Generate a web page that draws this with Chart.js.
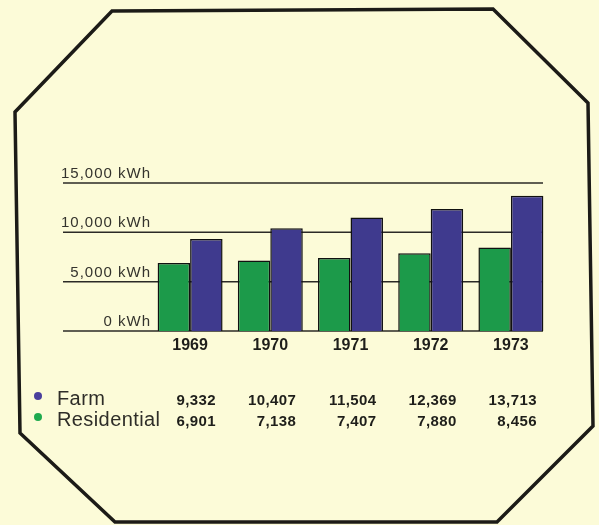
<!DOCTYPE html>
<html>
<head>
<meta charset="utf-8">
<script src="https://cdn.jsdelivr.net/npm/chart.js@4/dist/chart.umd.min.js"></script>
<style>
  html, body { margin:0; padding:0; background:#fcfbd8; }
  #c { display:block; }
</style>
</head>
<body>
<canvas id="c" width="599" height="525"></canvas>
<script>
// ---- DATA ----
const years = ['1969','1970','1971','1972','1973'];
const farm = [9332, 10407, 11504, 12369, 13713];
const residential = [6901, 7138, 7407, 7880, 8456];
const yTicks = [0, 5000, 10000, 15000];
const yTickLabels = ['0 kWh', '5,000 kWh', '10,000 kWh', '15,000 kWh'];
const seriesNames = ['Farm', 'Residential'];

// ---- STYLE ----
const BG = '#fcfbd8';
const GREEN = '#1c9a4a';
const PURPLE = '#3f3a8e';
const FONT = '"Liberation Sans", Arial, Helvetica, sans-serif';

// octagon frame (decoration only)
const frame = [[112,11],[493,9],[588,103],[593,426],[497,522],[115,522],[20,433],[15,112]];

const decor = {
  id:'decor',
  beforeDraw(chart){
    const ctx = chart.ctx;
    ctx.save();
    ctx.fillStyle = BG;
    ctx.fillRect(0,0,chart.width,chart.height);
    ctx.beginPath();
    frame.forEach((p,i)=> i ? ctx.lineTo(p[0],p[1]) : ctx.moveTo(p[0],p[1]));
    ctx.closePath();
    ctx.lineWidth = 3.5;
    ctx.lineJoin = 'miter';
    ctx.strokeStyle = '#1c1b17';
    ctx.stroke();
    ctx.restore();
  },
  // gridlines + y labels sit above each line, under the bars
  beforeDatasetsDraw(chart){
    const ctx = chart.ctx, y = chart.scales.y;
    ctx.save();
    ctx.strokeStyle = '#2b2a26';
    ctx.lineWidth = 1.5;
    ctx.fillStyle = '#34332d';
    ctx.font = '15px ' + FONT;
    ctx.letterSpacing = '1px';
    ctx.textAlign = 'right';
    yTicks.forEach((v,i)=>{
      const py = y.getPixelForValue(v);
      ctx.beginPath();
      ctx.moveTo(63, py);
      ctx.lineTo(543, py);
      ctx.stroke();
      ctx.fillText(yTickLabels[i], 151, py - 5);
    });
    ctx.restore();
  },
  // legend + value table
  afterDraw(chart){
    const ctx = chart.ctx, x = chart.scales.x;
    const rows = [
      {name:seriesNames[0], vals:farm, color:'#4a3f9c', base:405},
      {name:seriesNames[1], vals:residential, color:'#1eaa4e', base:426}
    ];
    ctx.save();
    rows.forEach(r=>{
      ctx.fillStyle = r.color;
      ctx.beginPath();
      ctx.arc(38, r.base - 9, 4, 0, Math.PI*2);
      ctx.fill();
      ctx.fillStyle = '#2e2d28';
      ctx.font = '20px ' + FONT;
      ctx.letterSpacing = '0.4px';
      ctx.textAlign = 'left';
      ctx.fillText(r.name, 57, r.base);
      ctx.fillStyle = '#1e1e1a';
      ctx.font = 'bold 15px ' + FONT;
      ctx.letterSpacing = '0.4px';
      ctx.textAlign = 'right';
      r.vals.forEach((v,i)=>{
        ctx.fillText(v.toLocaleString('en-US'), x.getPixelForValue(i) + 26, r.base);
      });
    });
    ctx.restore();
  }
};

new Chart(document.getElementById('c'), {
  type:'bar',
  data:{
    labels:years,
    datasets:[
      {label:seriesNames[1], data:residential, backgroundColor:GREEN, borderColor:'#111', borderWidth:1.5},
      {label:seriesNames[0], data:farm, backgroundColor:PURPLE, borderColor:'#111', borderWidth:1.5}
    ]
  },
  options:{
    responsive:false,
    animation:false,
    layout:{padding:{top:183, left:150, right:48, bottom:164}},
    datasets:{bar:{barPercentage:1, categoryPercentage:0.81}},
    plugins:{legend:{display:false}, tooltip:{enabled:false}},
    scales:{
      x:{
        grid:{display:false, drawTicks:false},
        border:{display:false},
        ticks:{color:'#1e1e1a', font:{family:FONT, size:16, weight:'bold'}, padding:5},
        afterFit(s){ s.height = 30; }
      },
      y:{display:false, min:0, max:15000}
    }
  },
  plugins:[decor]
});
</script>
</body>
</html>
